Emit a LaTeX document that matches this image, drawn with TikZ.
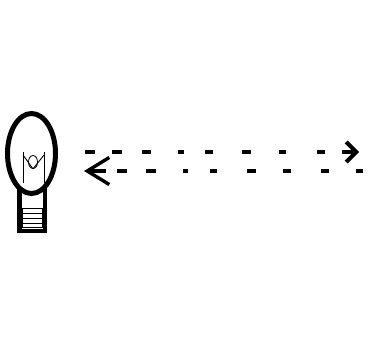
\documentclass[tikz,border=0pt]{standalone}
\usetikzlibrary{arrows.meta, positioning, shapes.geometric}

\begin{document}
\begin{tikzpicture}[
  x=1pt, y=-1pt,
  bulb/.style={draw, ellipse, line width=5pt, minimum width=48pt, minimum height=80pt, inner sep=0pt},
  socket/.style={draw, line width=4.5pt, fill=white, minimum width=25.5pt, minimum height=50pt, inner sep=0pt},
  thread/.style={draw, line width=1pt, minimum width=20pt, minimum height=19pt, inner sep=0pt},
  wire/.style={line width=0.9pt},
  ray/.style={line width=3.6pt},
]
  \useasboundingbox (0,0) rectangle (377,350);

  % Lamp
  \node[socket] (base) at (32,206) {};
  \node[thread] (screw) at (32,218) {};
  \node[bulb, fill=white] (lamp) at (31.5,153.5) {};
  \foreach \yy in {213,218,223}
    \draw[wire] (screw.west |- 0,\yy) -- (screw.east |- 0,\yy);

  % Filament
  \coordinate (wireL) at (23,152);
  \coordinate (wireR) at (44,152);
  \node[draw, ellipse, line width=0.8pt, minimum width=9pt, minimum height=13pt, inner sep=0pt] (loop) at (33,162) {};
  \draw[wire] (wireL) -- (23,183);
  \draw[wire] (wireR) -- (44,183);
  \draw[wire] (23,155) -- (loop.south);
  \draw[wire] (44,155) -- (loop.south);

  % Rays between lamp and object
  \coordinate (outA) at (85,152);
  \coordinate (outB) at (359,152);
  \coordinate (backA) at (363,171);
  \coordinate (backB) at (84,171);
  \draw[ray, -{Straight Barb[length=10pt, width=20pt, line width=4pt]},
        dash pattern=on 10pt off 17pt on 10pt off 20pt on 9pt off 27pt on 6pt off 21pt on 8pt off 29pt on 9pt off 28pt on 7pt off 31pt on 8pt off 17pt on 40pt off 0pt] (outA) -- (outB);
  \draw[ray, -{Straight Barb[length=22pt, width=27pt, line width=3.4pt]},
        dash pattern=on 7pt off 27pt on 8pt off 30pt on 8pt off 27pt on 9pt off 30pt on 7pt off 22pt on 5pt off 27pt on 10pt off 19pt on 10pt off 11pt on 40pt off 0pt] (backA) -- (backB);
\end{tikzpicture}
\end{document}
